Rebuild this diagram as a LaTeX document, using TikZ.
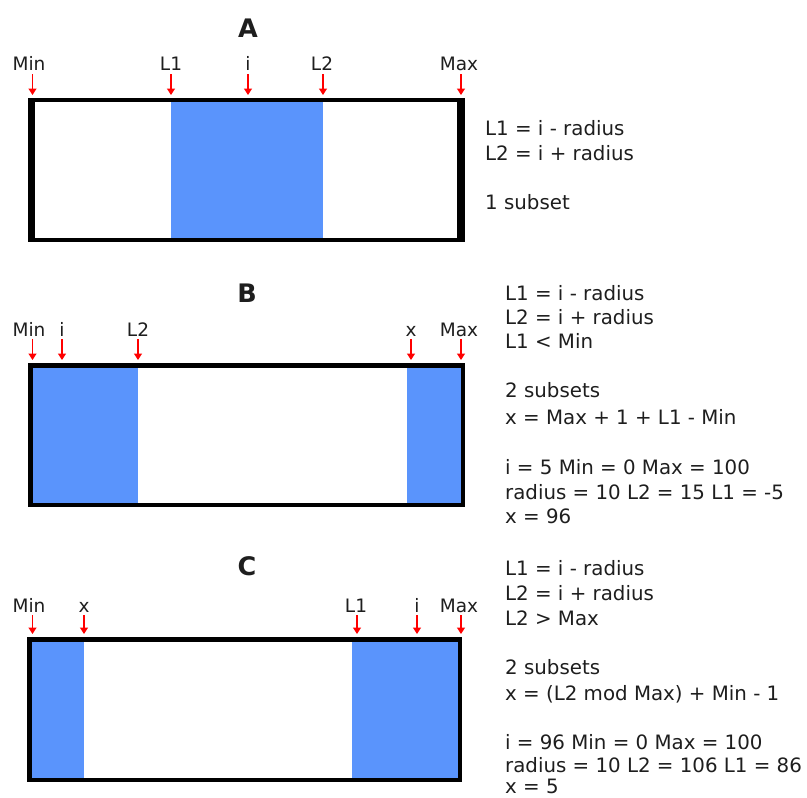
\documentclass[tikz,border=0pt]{standalone}
\usepackage{fontspec}
\setmainfont{DejaVu Sans}
\usetikzlibrary{arrows.meta}
\definecolor{fillblue}{HTML}{5A94FC}
\definecolor{ink}{HTML}{1E1E1E}
\tikzset{
  lbl/.style={font=\fontsize{18.5}{22}\selectfont, text=ink, inner sep=0pt, anchor=base},
  note/.style={font=\fontsize{19.8}{24}\selectfont, text=ink, inner sep=0pt, anchor=base west},
  ttl/.style={font=\bfseries\fontsize{25.5}{30}\selectfont, text=ink, inner sep=0pt, anchor=base},
  ptr/.style={red, line width=1.4pt, -{Triangle[width=8pt,length=6.5pt]}},
  band/.style={fill=fillblue, draw=none},
  frame/.style={draw=black, line width=4.5pt},
}
\begin{document}
\begin{tikzpicture}[x=1pt, y=-1pt]
\useasboundingbox (0,0) rectangle (807,798);

% ---------------- A: one subset ----------------
\node[ttl] (tA) at (248,37) {A};
\fill[band] (171,97.7) rectangle (323,242);
\draw[black, line width=4.3pt] (30.15,99.85) rectangle (462.85,239.85);
\fill[black] (28,97.7) rectangle (35,242);
\fill[black] (457,97.7) rectangle (465,242);
\foreach \nm/\lx/\ax in {Min/29/32.5, L1/171/171, i/248/248, L2/322/323, Max/459/461} {
  \node[lbl] (a\nm) at (\lx,70.5) {\nm};
  \coordinate (a\nm s) at (\ax,74);
  \coordinate (a\nm e) at (\ax,95);
  \draw[ptr] (a\nm s) -- (a\nm e);
}
\foreach \k/\y/\t in {1/135/{L1 = i - radius}, 2/160/{L2 = i + radius}, 3/209/{1 subset}}
  \node[note] (nA\k) at (485,\y) {\t};

% ---------------- B: L1 below Min ----------------
\node[ttl] (tB) at (247,302) {B};
\fill[band] (28,363) rectangle (138,507.3);
\fill[band] (407,363) rectangle (465,507.3);
\draw[frame] (30.25,365.25) rectangle (462.75,505.05);
\foreach \nm/\lx/\ax in {Min/29/32.5, i/62/62, L2/138/138, x/411/411, Max/459/461} {
  \node[lbl] (b\nm) at (\lx,336.5) {\nm};
  \coordinate (b\nm s) at (\ax,339);
  \coordinate (b\nm e) at (\ax,360);
  \draw[ptr] (b\nm s) -- (b\nm e);
}
\foreach \k/\y/\t in {1/300/{L1 = i - radius}, 2/324/{L2 = i + radius}, 3/348/{L1 < Min},
    4/397/{2 subsets}, 5/424/{x = Max + 1 + L1 - Min},
    6/474/{i = 5 Min = 0 Max = 100}, 7/499/{radius = 10 L2 = 15 L1 = -5}, 8/523/{x = 96}}
  \node[note] (nB\k) at (505,\y) {\t};

% ---------------- C: L2 above Max ----------------
\node[ttl] (tC) at (247,575) {C};
\fill[band] (27,637) rectangle (84,782);
\fill[band] (352,637) rectangle (462,782);
\draw[frame] (29.25,639.25) rectangle (459.75,779.75);
\foreach \nm/\lx/\ax in {Min/29/32.5, x/84/84, L1/356/357, i/417/417, Max/459/461} {
  \node[lbl] (c\nm) at (\lx,612.5) {\nm};
  \coordinate (c\nm s) at (\ax,615);
  \coordinate (c\nm e) at (\ax,634);
  \draw[ptr] (c\nm s) -- (c\nm e);
}
\foreach \k/\y/\t in {1/575/{L1 = i - radius}, 2/600/{L2 = i + radius}, 3/625/{L2 > Max},
    4/674/{2 subsets}, 5/700/{x = (L2 mod Max) + Min - 1},
    6/749/{i = 96 Min = 0 Max = 100}, 7/772.5/{radius = 10 L2 = 106 L1 = 86}, 8/793.5/{x = 5}}
  \node[note] (nC\k) at (505,\y) {\t};
\end{tikzpicture}
\end{document}
